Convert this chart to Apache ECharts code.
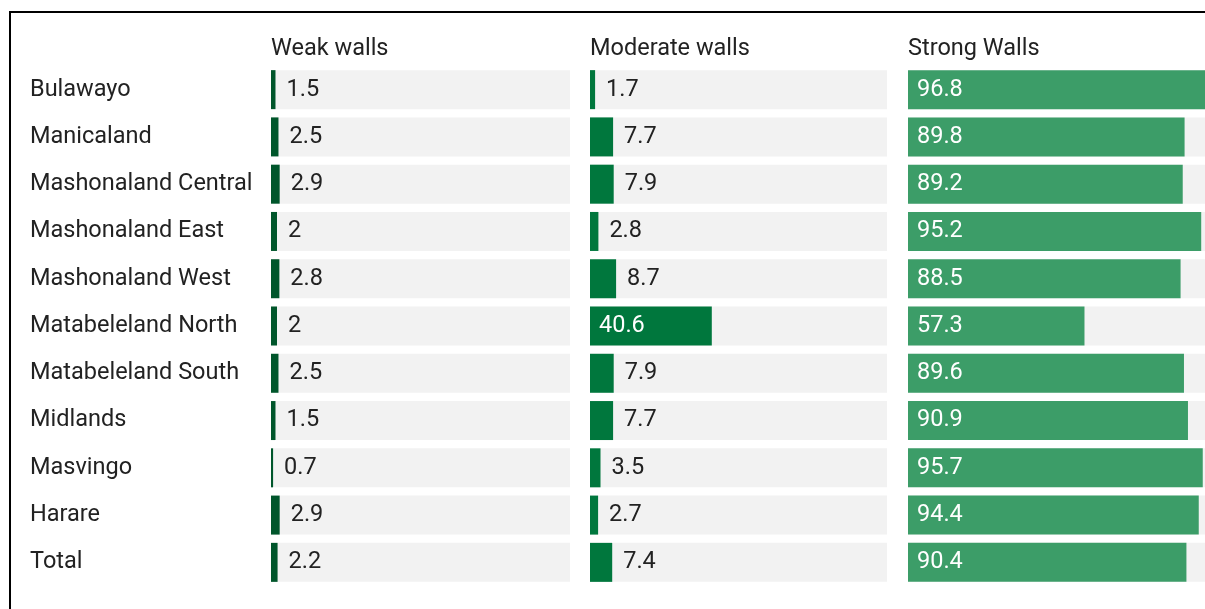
<!DOCTYPE html>
<html>
<head>
<meta charset="utf-8">
<script src="https://cdn.jsdelivr.net/npm/echarts@6/dist/echarts.min.js"></script>
<style>
html,body{margin:0;padding:0;background:#fff;overflow:hidden;}
#chart{width:1205px;height:609px;}
</style>
</head>
<body>
<div id="chart"></div>
<script>
const categories = ["Bulawayo","Manicaland","Mashonaland Central","Mashonaland East","Mashonaland West","Matabeleland North","Matabeleland South","Midlands","Masvingo","Harare","Total"];
const panelTitles = ["Weak walls","Moderate walls","Strong Walls"];
const weakWalls = [1.5,2.5,2.9,2,2.8,2,2.5,1.5,0.7,2.9,2.2];
const moderateWalls = [1.7,7.7,7.9,2.8,8.7,40.6,7.9,7.7,3.5,2.7,7.4];
const strongWalls = [96.8,89.8,89.2,95.2,88.5,57.3,89.6,90.9,95.7,94.4,90.4];

const seriesValues = [weakWalls, moderateWalls, strongWalls];
const colors = ["#00562b","#00773d","#3c9d68"];
const lefts = [271, 590, 908];
const widths = [299, 297, 297];
// strong panel is cut off by the frame: its full 0-100 scale is ~308px wide
const axisMax = [100, 99, 100 * 297 / 308];
const FONT = "Roboto";
const FS = 23.5;
const TXT = '#222222';

const chart = echarts.init(document.getElementById('chart'));

function labelFor(v){
  const inside = v > 20;
  return {
    show: true,
    position: inside ? 'insideLeft' : 'right',
    distance: inside ? 9 : 11,
    color: inside ? '#ffffff' : TXT,
    fontSize: FS,
    fontFamily: FONT,
    padding: [6, 0, 0, 0]
  };
}

const option = {
  animation: false,
  backgroundColor: '#ffffff',
  title: panelTitles.map((t,i)=>({
    text: t, left: lefts[i], top: 37, padding: 0,
    textStyle: {fontFamily: FONT, fontSize: FS, fontWeight: 'normal', color: TXT}
  })),
  grid: lefts.map((l,i)=>({left: l, width: widths[i], top: 66, height: 520})),
  xAxis: lefts.map((l,i)=>({
    type: 'value', gridIndex: i, min: 0, max: axisMax[i], show: false
  })),
  yAxis: lefts.map((l,i)=>({
    type: 'category', gridIndex: i, data: categories, inverse: true,
    axisLine: {show: false}, axisTick: {show: false}, splitLine: {show: false},
    axisLabel: i === 0 ? {show: true, align: 'left', margin: 241, fontFamily: FONT, fontSize: FS, color: TXT, padding: [6, 0, 0, 0]} : {show: false}
  })),
  series: seriesValues.map((vals,i)=>({
    type: 'bar', xAxisIndex: i, yAxisIndex: i,
    barWidth: 39,
    showBackground: true,
    backgroundStyle: {color: '#f2f2f2'},
    itemStyle: {color: colors[i]},
    data: vals.map(v => ({value: v, label: labelFor(v)}))
  })),
  graphic: [{
    type: 'rect', shape: {x: 10, y: 12, width: 1400, height: 800},
    style: {fill: 'none', stroke: '#000000', lineWidth: 2}, silent: true, z: 100
  }]
};
chart.setOption(option);
</script>
</body>
</html>
